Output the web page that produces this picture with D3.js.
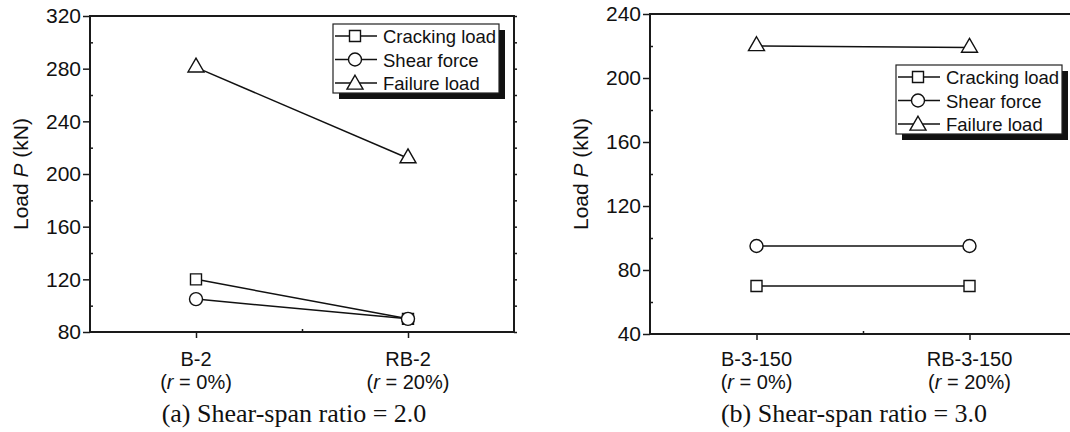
<!DOCTYPE html>
<html>
  <head>
    <meta charset="utf-8">
    <script src="https://cdn.jsdelivr.net/npm/d3@7/dist/d3.min.js"></script>
    <style>
      body { margin: 0; background: white; }
      svg { display: block; }
      text { font-family: "Liberation Sans", Arial, sans-serif; fill: #111; }
      .frame { fill: none; stroke: #1a1a1a; stroke-width: 2px; }
      .axis path { display: none; }
      .axis line { stroke: #1a1a1a; stroke-width: 1.5px; }
      .axis text { font-size: 21px; }
      .series { fill: none; stroke: #111; stroke-width: 1.5px; }
      .marker { fill: white; stroke: #111; stroke-width: 1.4px; }
      .caption { font-family: "Liberation Serif", "Times New Roman", serif; font-size: 26px; }
    </style>
  </head>
  <body>
    <svg id="chart" width="1070" height="432"></svg>
    <script>
      // series names shared by both panels
      var seriesNames = ["Cracking load", "Shear force", "Failure load"];
      var ratioLabels = ["0%", "20%"];

      // (a) shear-span ratio 2.0
      var specimensA = ["B-2", "RB-2"];
      var crackingA = [120, 90];
      var shearA = [105, 90];
      var failureA = [281, 212];
      var yTicksA = [80, 120, 160, 200, 240, 280, 320];

      // (b) shear-span ratio 3.0
      var specimensB = ["B-3-150", "RB-3-150"];
      var crackingB = [70, 70];
      var shearB = [95, 95];
      var failureB = [220, 219];
      var yTicksB = [40, 80, 120, 160, 200, 240];

      var symbols = [d3.symbolSquare, d3.symbolCircle, d3.symbolTriangle];
      var symbolSizes = [121, 133, 111];

      var svg = d3.select("#chart");

      function drawPanel(p) {
        var g = svg.append("g");
        var x = d3.scaleLinear().domain([0, 4]).range([p.left, p.left + p.width]);
        var y = d3.scaleLinear().domain(d3.extent(p.yTicks)).range([p.bottom, p.top]);
        var step = p.yTicks[1] - p.yTicks[0];
        var minor = p.yTicks.slice(1).map(d => d - step / 2);

        // left axis: major outward, minor inward
        g.append("g").attr("class", "axis")
          .attr("transform", "translate(" + p.left + ",0)")
          .call(d3.axisLeft(y).tickValues(p.yTicks).tickSize(7).tickPadding(2));
        g.append("g").attr("class", "axis")
          .attr("transform", "translate(" + p.left + ",0)")
          .call(d3.axisRight(y).tickValues(minor).tickSize(3).tickFormat(""));
        // right side small ticks
        g.append("g").attr("class", "axis")
          .attr("transform", "translate(" + (p.left + p.width) + ",0)")
          .call(d3.axisRight(y).tickValues(p.yTicks.concat(minor)).tickSize(3).tickFormat(""));

        // bottom axis: category ticks outward, middle tick inward
        g.append("g").attr("class", "axis")
          .attr("transform", "translate(0," + p.bottom + ")")
          .call(d3.axisBottom(x).tickValues([1, 3]).tickSize(6).tickFormat(""));
        g.append("g").attr("class", "axis")
          .attr("transform", "translate(0," + p.bottom + ")")
          .call(d3.axisTop(x).tickValues([2]).tickSize(3).tickFormat(""));

        g.append("rect").attr("class", "frame")
          .attr("x", p.left).attr("y", p.top)
          .attr("width", p.width).attr("height", p.bottom - p.top);

        // category labels
        p.specimens.forEach(function (s, i) {
          var cx = x(1 + 2 * i);
          g.append("text").attr("x", cx).attr("y", 366)
            .attr("text-anchor", "middle").style("font-size", "20px").text(s);
          var t = g.append("text").attr("x", cx).attr("y", 389)
            .attr("text-anchor", "middle").style("font-size", "20px");
          t.append("tspan").text("(");
          t.append("tspan").style("font-style", "italic").text("r");
          t.append("tspan").text(" = " + ratioLabels[i] + ")");
        });

        // y title
        var yt = g.append("text")
          .attr("transform", "translate(" + p.titleX + "," + ((p.top + p.bottom) / 2) + ") rotate(-90)")
          .attr("text-anchor", "middle").style("font-size", "21px");
        yt.append("tspan").text("Load ");
        yt.append("tspan").style("font-style", "italic").text("P");
        yt.append("tspan").text(" (kN)");

        g.append("text").attr("class", "caption")
          .attr("x", p.captionX).attr("y", 422)
          .attr("text-anchor", "middle").text(p.caption);

        // series
        var line = d3.line().x((d, i) => x(1 + 2 * i)).y(d => y(d));
        p.series.forEach(function (vals, k) {
          g.append("path").attr("class", "series").attr("d", line(vals));
        });
        p.series.forEach(function (vals, k) {
          g.selectAll(null).data(vals).enter().append("path")
            .attr("class", "marker")
            .attr("d", d3.symbol().type(symbols[k]).size(symbolSizes[k]))
            .attr("transform", (d, i) => "translate(" + x(1 + 2 * i) + "," + y(d) + ")");
        });

        // legend with drop shadow
        var lg = g.append("g").attr("transform", "translate(" + p.legendX + "," + p.legendY + ")");
        lg.append("rect").attr("x", 6).attr("y", 6).attr("width", 166).attr("height", 69).attr("fill", "#111");
        lg.append("rect").attr("width", 166).attr("height", 69)
          .attr("fill", "white").attr("stroke", "#222").attr("stroke-width", 1.2);
        seriesNames.forEach(function (name, k) {
          var ry = 12 + k * 23.5;
          lg.append("line").attr("x1", 2).attr("x2", 44).attr("y1", ry).attr("y2", ry)
            .attr("stroke", "#111").attr("stroke-width", 1.5);
          lg.append("path").attr("class", "marker")
            .attr("d", d3.symbol().type(symbols[k]).size(symbolSizes[k]))
            .attr("transform", "translate(22," + (ry + (k === 2 ? 1.5 : 0)) + ")");
          lg.append("text").attr("x", 50).attr("y", ry + 7)
            .style("font-size", "18.5px").text(name);
        });
      }

      drawPanel({
        left: 90, width: 424, top: 16, bottom: 332,
        yTicks: yTicksA, specimens: specimensA,
        series: [crackingA, shearA, failureA],
        titleX: 28, caption: "(a) Shear-span ratio = 2.0", captionX: 294,
        legendX: 333, legendY: 24
      });

      drawPanel({
        left: 650, width: 426, top: 14, bottom: 334,
        yTicks: yTicksB, specimens: specimensB,
        series: [crackingB, shearB, failureB],
        titleX: 588, caption: "(b) Shear-span ratio = 3.0", captionX: 854,
        legendX: 896, legendY: 65
      });
    </script>
  </body>
</html>
